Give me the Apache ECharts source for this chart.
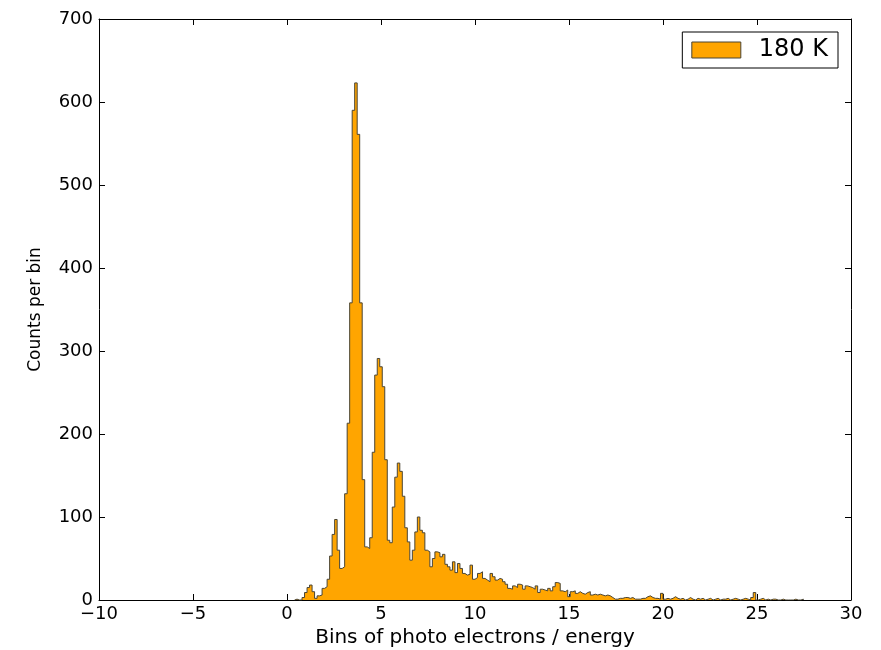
<!DOCTYPE html>
<html>
<head>
<meta charset="utf-8">
<title>180 K</title>
<script src="https://cdn.jsdelivr.net/npm/echarts@6/dist/echarts.min.js"></script>
<style>
html, body { margin: 0; padding: 0; background: #fff; }
#chart { width: 881px; height: 650px; }
</style>
</head>
<body>
<div id="chart"></div>
<script>
// histogram: 300 bins over -10..30, only the non-empty part is kept
const binStart = 0.4
const binWidth = 40 / 300
const counts = [
    1, 0, 0,
    3, 9, 15, 18, 10, 2, 5, 6, 14, 16,
    25, 53, 79, 97, 60, 38, 40, 128, 213, 358,
    590, 623, 561, 358, 145, 64, 62, 75, 178, 271,
    291, 281, 257, 169, 72, 69, 112, 148, 165, 155,
    125, 87, 70, 48, 60, 82, 100, 84, 81, 60,
    58, 40, 50, 58, 57, 52, 55, 43, 40, 36,
    46, 33, 44, 38, 32, 30, 31, 42, 25, 27,
    32, 34, 26, 24, 22, 32, 28, 24, 26, 25,
    22, 19, 14, 13, 17, 15, 19, 18, 13, 17,
    16, 15, 13, 17, 9, 13, 12, 11, 14, 11,
    16, 21, 20, 11, 10, 12, 4, 10, 11, 8,
    10, 8, 7, 9, 10, 6, 7, 6, 7, 6,
    5, 6, 5, 3, 1, 1, 2, 2, 3, 3,
    2, 3, 1, 1, 1, 2, 2, 4, 5, 3,
    2, 2, 1, 8, 1, 2, 1, 2, 4, 2,
    1, 2, 0, 1, 3, 1, 0, 2, 1, 2,
    0, 1, 2, 0, 1, 2, 0, 1, 1, 2,
    0, 1, 2, 1, 0, 1, 2, 1, 0, 3,
    9, 0, 1, 2, 0, 1, 0, 1, 1, 0,
    0, 1, 0, 0, 0, 0, 1, 0, 0, 1
]
const seriesName = '180 K'
const xRange = [-10, 30, 5]
const yRange = [0, 700, 100]

// step outline points: left edge of each bin, closed down to zero at both ends
const points = [[binStart, 0]]
counts.forEach((c, i) => points.push([binStart + i * binWidth, c]))
points.push([binStart + counts.length * binWidth, 0])

const font = 'DejaVu Sans'
const minus = v => String(v).replace('-', '\u2212')

const frameLine = { show: true, onZero: false, lineStyle: { color: '#000', width: 1 } }
const inTick = { show: true, inside: true, length: 6, lineStyle: { color: '#000', width: 1 } }

const chart = echarts.init(document.getElementById('chart'))
chart.setOption({
    animation: false,
    backgroundColor: '#fff',
    grid: { left: 99, right: 30, top: 19, bottom: 50, outerBoundsMode: 'none' },
    legend: {
        right: 43,
        top: 32,
        orient: 'vertical',
        padding: [6, 10, 6, 9],
        backgroundColor: '#fff',
        borderColor: '#000',
        borderWidth: 1,
        borderRadius: 0,
        itemWidth: 49,
        itemHeight: 16,
        textStyle: { fontFamily: font, fontSize: 24, color: '#000', padding: [0, 0, 0, 13] },
        data: [{
            name: seriesName,
            icon: 'rect',
            itemStyle: { color: '#FFA500', borderColor: '#4a4535', borderWidth: 1 }
        }]
    },
    xAxis: [
        {
            type: 'value',
            position: 'bottom',
            min: xRange[0], max: xRange[1], interval: xRange[2],
            axisLine: frameLine,
            axisTick: inTick,
            splitLine: { show: false },
            axisLabel: { color: '#000', fontFamily: font, fontSize: 18, margin: 5, formatter: minus },
            name: 'Bins of photo electrons / energy',
            nameLocation: 'middle',
            nameGap: 26,
            nameTextStyle: { color: '#000', fontFamily: font, fontSize: 20 }
        },
        {
            type: 'value',
            position: 'top',
            min: xRange[0], max: xRange[1], interval: xRange[2],
            axisLine: frameLine,
            axisTick: inTick,
            splitLine: { show: false },
            axisLabel: { show: false }
        }
    ],
    yAxis: [
        {
            type: 'value',
            position: 'left',
            min: yRange[0], max: yRange[1], interval: yRange[2],
            axisLine: frameLine,
            axisTick: inTick,
            splitLine: { show: false },
            axisLabel: { color: '#000', fontFamily: font, fontSize: 18, margin: 6 },
            name: 'Counts per bin',
            nameLocation: 'middle',
            nameGap: 55,
            nameTextStyle: { color: '#000', fontFamily: font, fontSize: 17 }
        },
        {
            type: 'value',
            position: 'right',
            min: yRange[0], max: yRange[1], interval: yRange[2],
            axisLine: frameLine,
            axisTick: inTick,
            splitLine: { show: false },
            axisLabel: { show: false }
        }
    ],
    series: [{
        name: seriesName,
        type: 'line',
        step: 'end',
        data: points,
        symbol: 'none',
        color: '#FFA500',
        lineStyle: { color: '#4a4535', width: 1 },
        areaStyle: { color: '#FFA500', opacity: 1 }
    }]
})
</script>
</body>
</html>
